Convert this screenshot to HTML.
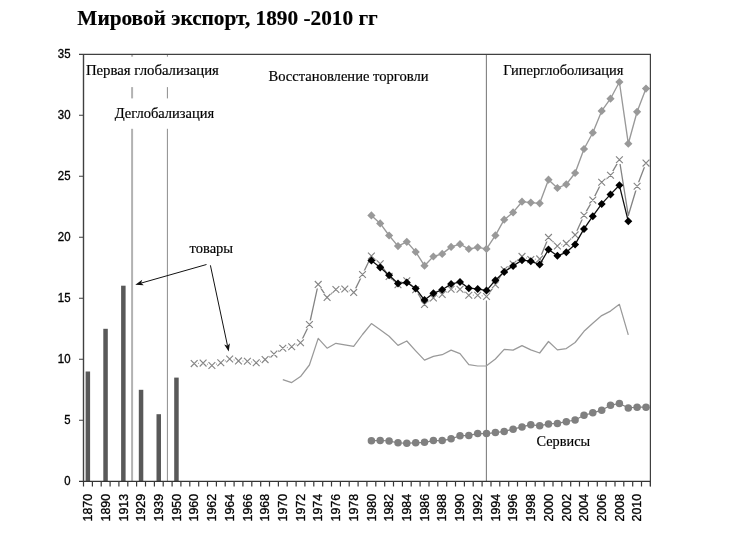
<!DOCTYPE html>
<html><head><meta charset="utf-8"><title>chart</title>
<style>html,body{margin:0;padding:0;background:#fff}svg{display:block}.sr{font-family:"Liberation Serif",serif;fill:#000;stroke:#000;stroke-width:.18px}.ss{font-family:"Liberation Sans",sans-serif;fill:#000;stroke:#000;stroke-width:.34px}</style></head><body>
<svg width="737" height="537" viewBox="0 0 737 537">
<rect width="737" height="537" fill="#fff"/>
<g opacity="0.999">
<text class="sr" x="77.3" y="25.2" font-size="20.6" font-weight="bold" textLength="300.5" lengthAdjust="spacingAndGlyphs">Мировой экспорт, 1890 -2010 гг</text>
<line x1="132.1" y1="54.3" x2="132.1" y2="481.3" stroke="#b2b2b2" stroke-width="2"/>
<line x1="167.4" y1="54.3" x2="167.4" y2="481.3" stroke="#8c8c8c" stroke-width="1"/>
<line x1="486.4" y1="54.3" x2="486.4" y2="481.3" stroke="#808080" stroke-width="1.1"/>
<rect x="85" y="56.7" width="136" height="30.4" fill="#fff"/>
<rect x="112" y="98.4" width="106" height="30.4" fill="#fff"/>
<rect x="85.6" y="371.5" width="4.5" height="109.8" fill="#595959"/>
<rect x="103.3" y="328.8" width="4.5" height="152.5" fill="#595959"/>
<rect x="121.1" y="285.7" width="4.5" height="195.6" fill="#595959"/>
<rect x="138.8" y="389.8" width="4.5" height="91.5" fill="#595959"/>
<rect x="156.5" y="414.2" width="4.5" height="67.1" fill="#595959"/>
<rect x="174.2" y="377.6" width="4.5" height="103.7" fill="#595959"/>
<polyline points="282.8,379.6 291.7,382.6 300.5,376.6 309.4,365.0 318.2,338.4 327.1,348.2 335.9,343.3 344.8,344.9 353.7,346.4 362.5,334.5 371.4,323.6 380.2,329.7 389.1,336.2 398.0,345.4 406.8,341.0 415.7,350.8 424.5,360.1 433.4,356.4 442.2,354.7 451.1,350.1 460.0,353.6 468.8,364.7 477.7,366.0 486.5,365.8 495.4,359.0 504.2,349.4 513.1,350.1 522.0,345.6 530.8,349.9 539.7,353.0 548.5,341.5 557.4,349.9 566.3,348.6 575.1,342.5 584.0,331.3 592.8,323.2 601.7,315.6 610.5,311.1 619.4,304.3 628.3,334.9" fill="none" stroke="#999" stroke-width="1.25" stroke-linejoin="round"/>
<polyline points="371.4,440.8 380.2,440.4 389.1,441.0 398.0,442.8 406.8,443.2 415.7,442.8 424.5,442.3 433.4,440.6 442.2,440.6 451.1,438.8 460.0,435.8 468.8,435.4 477.7,433.6 486.5,433.6 495.4,432.6 504.2,431.4 513.1,429.2 522.0,426.9 530.8,424.7 539.7,425.8 548.5,423.9 557.4,423.4 566.3,421.7 575.1,420.0 584.0,415.2 592.8,412.8 601.7,410.2 610.5,405.2 619.4,403.5 628.3,408.0 637.1,407.2 646.0,407.2" fill="none" stroke="#808080" stroke-width="1.2"/>
<circle cx="371.4" cy="440.8" r="3.75" fill="#808080"/>
<circle cx="380.2" cy="440.4" r="3.75" fill="#808080"/>
<circle cx="389.1" cy="441.0" r="3.75" fill="#808080"/>
<circle cx="398.0" cy="442.8" r="3.75" fill="#808080"/>
<circle cx="406.8" cy="443.2" r="3.75" fill="#808080"/>
<circle cx="415.7" cy="442.8" r="3.75" fill="#808080"/>
<circle cx="424.5" cy="442.3" r="3.75" fill="#808080"/>
<circle cx="433.4" cy="440.6" r="3.75" fill="#808080"/>
<circle cx="442.2" cy="440.6" r="3.75" fill="#808080"/>
<circle cx="451.1" cy="438.8" r="3.75" fill="#808080"/>
<circle cx="460.0" cy="435.8" r="3.75" fill="#808080"/>
<circle cx="468.8" cy="435.4" r="3.75" fill="#808080"/>
<circle cx="477.7" cy="433.6" r="3.75" fill="#808080"/>
<circle cx="486.5" cy="433.6" r="3.75" fill="#808080"/>
<circle cx="495.4" cy="432.6" r="3.75" fill="#808080"/>
<circle cx="504.2" cy="431.4" r="3.75" fill="#808080"/>
<circle cx="513.1" cy="429.2" r="3.75" fill="#808080"/>
<circle cx="522.0" cy="426.9" r="3.75" fill="#808080"/>
<circle cx="530.8" cy="424.7" r="3.75" fill="#808080"/>
<circle cx="539.7" cy="425.8" r="3.75" fill="#808080"/>
<circle cx="548.5" cy="423.9" r="3.75" fill="#808080"/>
<circle cx="557.4" cy="423.4" r="3.75" fill="#808080"/>
<circle cx="566.3" cy="421.7" r="3.75" fill="#808080"/>
<circle cx="575.1" cy="420.0" r="3.75" fill="#808080"/>
<circle cx="584.0" cy="415.2" r="3.75" fill="#808080"/>
<circle cx="592.8" cy="412.8" r="3.75" fill="#808080"/>
<circle cx="601.7" cy="410.2" r="3.75" fill="#808080"/>
<circle cx="610.5" cy="405.2" r="3.75" fill="#808080"/>
<circle cx="619.4" cy="403.5" r="3.75" fill="#808080"/>
<circle cx="628.3" cy="408.0" r="3.75" fill="#808080"/>
<circle cx="637.1" cy="407.2" r="3.75" fill="#808080"/>
<circle cx="646.0" cy="407.2" r="3.75" fill="#808080"/>
<polyline points="194.2,363.6 203.1,363.1 211.9,365.5 220.8,362.8 229.7,359.0 238.5,360.9 247.4,361.2 256.2,362.8 265.1,359.6 273.9,354.1 282.8,348.2 291.7,346.8 300.5,342.7 309.4,324.5 318.2,284.4 327.1,297.4 335.9,289.5 344.8,289.0 353.7,292.4 362.5,274.5 371.4,256.0 380.2,263.8 389.1,276.4 398.0,284.8 406.8,280.7 415.7,289.7 424.5,304.4 433.4,297.9 442.2,294.5 451.1,289.2 460.0,289.2 468.8,295.2 477.7,295.2 486.5,296.5 495.4,284.7 504.2,269.7 513.1,264.0 522.0,256.4 530.8,259.6 539.7,258.9 548.5,237.4 557.4,246.0 566.3,243.4 575.1,234.9 584.0,215.3 592.8,200.1 601.7,182.3 610.5,175.2 619.4,159.8 628.3,215.5 637.1,186.3 646.0,163.1" fill="none" stroke="#838383" stroke-width="1.3" stroke-linejoin="round"/>
<path d="M190.1 359.5h8.2v8.2h-8.2zM199.0 359.0h8.2v8.2h-8.2zM207.8 361.4h8.2v8.2h-8.2zM216.7 358.7h8.2v8.2h-8.2zM225.6 354.9h8.2v8.2h-8.2zM234.4 356.8h8.2v8.2h-8.2zM243.3 357.1h8.2v8.2h-8.2zM252.1 358.7h8.2v8.2h-8.2zM261.0 355.5h8.2v8.2h-8.2zM269.8 350.0h8.2v8.2h-8.2zM278.7 344.1h8.2v8.2h-8.2zM287.6 342.7h8.2v8.2h-8.2zM296.4 338.6h8.2v8.2h-8.2zM305.3 320.4h8.2v8.2h-8.2zM314.1 280.3h8.2v8.2h-8.2zM323.0 293.3h8.2v8.2h-8.2zM331.8 285.4h8.2v8.2h-8.2zM340.7 284.9h8.2v8.2h-8.2zM349.6 288.3h8.2v8.2h-8.2zM358.4 270.4h8.2v8.2h-8.2zM367.3 251.9h8.2v8.2h-8.2zM376.1 259.7h8.2v8.2h-8.2zM385.0 272.3h8.2v8.2h-8.2zM393.9 280.7h8.2v8.2h-8.2zM402.7 276.6h8.2v8.2h-8.2zM411.6 285.6h8.2v8.2h-8.2zM420.4 300.3h8.2v8.2h-8.2zM429.3 293.8h8.2v8.2h-8.2zM438.1 290.4h8.2v8.2h-8.2zM447.0 285.1h8.2v8.2h-8.2zM455.9 285.1h8.2v8.2h-8.2zM464.7 291.1h8.2v8.2h-8.2zM473.6 291.1h8.2v8.2h-8.2zM482.4 292.4h8.2v8.2h-8.2zM491.3 280.6h8.2v8.2h-8.2zM500.1 265.6h8.2v8.2h-8.2zM509.0 259.9h8.2v8.2h-8.2zM517.9 252.3h8.2v8.2h-8.2zM526.7 255.5h8.2v8.2h-8.2zM535.6 254.8h8.2v8.2h-8.2zM544.4 233.3h8.2v8.2h-8.2zM553.3 241.9h8.2v8.2h-8.2zM562.2 239.3h8.2v8.2h-8.2zM571.0 230.8h8.2v8.2h-8.2zM579.9 211.2h8.2v8.2h-8.2zM588.7 196.0h8.2v8.2h-8.2zM597.6 178.2h8.2v8.2h-8.2zM606.4 171.1h8.2v8.2h-8.2zM615.3 155.7h8.2v8.2h-8.2zM633.0 182.2h8.2v8.2h-8.2zM641.9 159.0h8.2v8.2h-8.2z" fill="#fff"/>
<path d="M190.8 360.2l6.8 6.8m0 -6.8l-6.8 6.8M199.7 359.7l6.8 6.8m0 -6.8l-6.8 6.8M208.5 362.1l6.8 6.8m0 -6.8l-6.8 6.8M217.4 359.4l6.8 6.8m0 -6.8l-6.8 6.8M226.3 355.6l6.8 6.8m0 -6.8l-6.8 6.8M235.1 357.5l6.8 6.8m0 -6.8l-6.8 6.8M244.0 357.8l6.8 6.8m0 -6.8l-6.8 6.8M252.8 359.4l6.8 6.8m0 -6.8l-6.8 6.8M261.7 356.2l6.8 6.8m0 -6.8l-6.8 6.8M270.5 350.7l6.8 6.8m0 -6.8l-6.8 6.8M279.4 344.8l6.8 6.8m0 -6.8l-6.8 6.8M288.3 343.4l6.8 6.8m0 -6.8l-6.8 6.8M297.1 339.3l6.8 6.8m0 -6.8l-6.8 6.8M306.0 321.1l6.8 6.8m0 -6.8l-6.8 6.8M314.8 281.0l6.8 6.8m0 -6.8l-6.8 6.8M323.7 294.0l6.8 6.8m0 -6.8l-6.8 6.8M332.5 286.1l6.8 6.8m0 -6.8l-6.8 6.8M341.4 285.6l6.8 6.8m0 -6.8l-6.8 6.8M350.3 289.0l6.8 6.8m0 -6.8l-6.8 6.8M359.1 271.1l6.8 6.8m0 -6.8l-6.8 6.8M368.0 252.6l6.8 6.8m0 -6.8l-6.8 6.8M376.8 260.4l6.8 6.8m0 -6.8l-6.8 6.8M385.7 273.0l6.8 6.8m0 -6.8l-6.8 6.8M394.6 281.4l6.8 6.8m0 -6.8l-6.8 6.8M403.4 277.3l6.8 6.8m0 -6.8l-6.8 6.8M412.3 286.3l6.8 6.8m0 -6.8l-6.8 6.8M421.1 301.0l6.8 6.8m0 -6.8l-6.8 6.8M430.0 294.5l6.8 6.8m0 -6.8l-6.8 6.8M438.8 291.1l6.8 6.8m0 -6.8l-6.8 6.8M447.7 285.8l6.8 6.8m0 -6.8l-6.8 6.8M456.6 285.8l6.8 6.8m0 -6.8l-6.8 6.8M465.4 291.8l6.8 6.8m0 -6.8l-6.8 6.8M474.3 291.8l6.8 6.8m0 -6.8l-6.8 6.8M483.1 293.1l6.8 6.8m0 -6.8l-6.8 6.8M492.0 281.3l6.8 6.8m0 -6.8l-6.8 6.8M500.8 266.3l6.8 6.8m0 -6.8l-6.8 6.8M509.7 260.6l6.8 6.8m0 -6.8l-6.8 6.8M518.6 253.0l6.8 6.8m0 -6.8l-6.8 6.8M527.4 256.2l6.8 6.8m0 -6.8l-6.8 6.8M536.3 255.5l6.8 6.8m0 -6.8l-6.8 6.8M545.1 234.0l6.8 6.8m0 -6.8l-6.8 6.8M554.0 242.6l6.8 6.8m0 -6.8l-6.8 6.8M562.9 240.0l6.8 6.8m0 -6.8l-6.8 6.8M571.7 231.5l6.8 6.8m0 -6.8l-6.8 6.8M580.6 211.9l6.8 6.8m0 -6.8l-6.8 6.8M589.4 196.7l6.8 6.8m0 -6.8l-6.8 6.8M598.3 178.9l6.8 6.8m0 -6.8l-6.8 6.8M607.1 171.8l6.8 6.8m0 -6.8l-6.8 6.8M616.0 156.4l6.8 6.8m0 -6.8l-6.8 6.8M633.7 182.9l6.8 6.8m0 -6.8l-6.8 6.8M642.6 159.7l6.8 6.8m0 -6.8l-6.8 6.8" stroke="#858585" stroke-width="1.15" fill="none"/>
<polyline points="371.4,215.4 380.2,223.4 389.1,235.5 398.0,246.1 406.8,241.8 415.7,251.9 424.5,265.7 433.4,256.5 442.2,253.9 451.1,246.9 460.0,244.2 468.8,249.0 477.7,247.3 486.5,248.9 495.4,235.4 504.2,219.7 513.1,212.4 522.0,201.7 530.8,202.6 539.7,203.3 548.5,179.7 557.4,188.0 566.3,184.3 575.1,173.0 584.0,149.0 592.8,132.7 601.7,110.9 610.5,98.7 619.4,82.0 628.3,143.7 637.1,111.8 646.0,88.6" fill="none" stroke="#999" stroke-width="1.35" stroke-linejoin="round"/>
<path d="M371.4 211.3l4.1 4.1l-4.1 4.1l-4.1 -4.1zM380.2 219.3l4.1 4.1l-4.1 4.1l-4.1 -4.1zM389.1 231.4l4.1 4.1l-4.1 4.1l-4.1 -4.1zM398.0 242.0l4.1 4.1l-4.1 4.1l-4.1 -4.1zM406.8 237.7l4.1 4.1l-4.1 4.1l-4.1 -4.1zM415.7 247.8l4.1 4.1l-4.1 4.1l-4.1 -4.1zM424.5 261.6l4.1 4.1l-4.1 4.1l-4.1 -4.1zM433.4 252.4l4.1 4.1l-4.1 4.1l-4.1 -4.1zM442.2 249.8l4.1 4.1l-4.1 4.1l-4.1 -4.1zM451.1 242.8l4.1 4.1l-4.1 4.1l-4.1 -4.1zM460.0 240.1l4.1 4.1l-4.1 4.1l-4.1 -4.1zM468.8 244.9l4.1 4.1l-4.1 4.1l-4.1 -4.1zM477.7 243.2l4.1 4.1l-4.1 4.1l-4.1 -4.1zM486.5 244.8l4.1 4.1l-4.1 4.1l-4.1 -4.1zM495.4 231.3l4.1 4.1l-4.1 4.1l-4.1 -4.1zM504.2 215.6l4.1 4.1l-4.1 4.1l-4.1 -4.1zM513.1 208.3l4.1 4.1l-4.1 4.1l-4.1 -4.1zM522.0 197.6l4.1 4.1l-4.1 4.1l-4.1 -4.1zM530.8 198.5l4.1 4.1l-4.1 4.1l-4.1 -4.1zM539.7 199.2l4.1 4.1l-4.1 4.1l-4.1 -4.1zM548.5 175.6l4.1 4.1l-4.1 4.1l-4.1 -4.1zM557.4 183.9l4.1 4.1l-4.1 4.1l-4.1 -4.1zM566.3 180.2l4.1 4.1l-4.1 4.1l-4.1 -4.1zM575.1 168.9l4.1 4.1l-4.1 4.1l-4.1 -4.1zM584.0 144.9l4.1 4.1l-4.1 4.1l-4.1 -4.1zM592.8 128.6l4.1 4.1l-4.1 4.1l-4.1 -4.1zM601.7 106.8l4.1 4.1l-4.1 4.1l-4.1 -4.1zM610.5 94.6l4.1 4.1l-4.1 4.1l-4.1 -4.1zM619.4 77.9l4.1 4.1l-4.1 4.1l-4.1 -4.1zM628.3 139.6l4.1 4.1l-4.1 4.1l-4.1 -4.1zM637.1 107.7l4.1 4.1l-4.1 4.1l-4.1 -4.1zM646.0 84.5l4.1 4.1l-4.1 4.1l-4.1 -4.1z" fill="#999"/>
<polyline points="371.4,260.6 380.2,267.4 389.1,275.2 398.0,283.4 406.8,282.4 415.7,288.5 424.5,300.1 433.4,293.3 442.2,289.7 451.1,284.1 460.0,281.9 468.8,288.2 477.7,288.9 486.5,290.6 495.4,280.2 504.2,271.9 513.1,265.9 522.0,260.2 530.8,261.2 539.7,264.6 548.5,249.5 557.4,255.8 566.3,252.3 575.1,244.4 584.0,228.9 592.8,216.2 601.7,203.9 610.5,194.4 619.4,185.3 628.3,221.3" fill="none" stroke="#111" stroke-width="1.3" stroke-linejoin="round"/>
<path d="M371.4 256.6l4 4l-4 4l-4 -4zM380.2 263.4l4 4l-4 4l-4 -4zM389.1 271.2l4 4l-4 4l-4 -4zM398.0 279.4l4 4l-4 4l-4 -4zM406.8 278.4l4 4l-4 4l-4 -4zM415.7 284.5l4 4l-4 4l-4 -4zM424.5 296.1l4 4l-4 4l-4 -4zM433.4 289.3l4 4l-4 4l-4 -4zM442.2 285.7l4 4l-4 4l-4 -4zM451.1 280.1l4 4l-4 4l-4 -4zM460.0 277.9l4 4l-4 4l-4 -4zM468.8 284.2l4 4l-4 4l-4 -4zM477.7 284.9l4 4l-4 4l-4 -4zM486.5 286.6l4 4l-4 4l-4 -4zM495.4 276.2l4 4l-4 4l-4 -4zM504.2 267.9l4 4l-4 4l-4 -4zM513.1 261.9l4 4l-4 4l-4 -4zM522.0 256.2l4 4l-4 4l-4 -4zM530.8 257.2l4 4l-4 4l-4 -4zM539.7 260.6l4 4l-4 4l-4 -4zM548.5 245.5l4 4l-4 4l-4 -4zM557.4 251.8l4 4l-4 4l-4 -4zM566.3 248.3l4 4l-4 4l-4 -4zM575.1 240.4l4 4l-4 4l-4 -4zM584.0 224.9l4 4l-4 4l-4 -4zM592.8 212.2l4 4l-4 4l-4 -4zM601.7 199.9l4 4l-4 4l-4 -4zM610.5 190.4l4 4l-4 4l-4 -4zM619.4 181.3l4 4l-4 4l-4 -4zM628.3 217.3l4 4l-4 4l-4 -4z" fill="#000"/>
<path d="M79 54.3H650.4M650.4 53.7V486.3" stroke="#404040" stroke-width="1.2" fill="none"/>
<path d="M83.5 54.3V481.3" stroke="#404040" stroke-width="1.4" fill="none"/>
<path d="M79 481.3H650.4" stroke="#333" stroke-width="1.3" fill="none"/>
<path d="M79 420.3H83.5M79 359.3H83.5M79 298.3H83.5M79 237.3H83.5M79 176.3H83.5M79 115.3H83.5" stroke="#404040" stroke-width="1.1" fill="none"/>
<path d="M83.5 481.3v5.2M92.4 481.3v5.2M101.2 481.3v5.2M110.1 481.3v5.2M118.9 481.3v5.2M127.8 481.3v5.2M136.6 481.3v5.2M145.5 481.3v5.2M154.4 481.3v5.2M163.2 481.3v5.2M172.1 481.3v5.2M180.9 481.3v5.2M189.8 481.3v5.2M198.7 481.3v5.2M207.5 481.3v5.2M216.4 481.3v5.2M225.2 481.3v5.2M234.1 481.3v5.2M242.9 481.3v5.2M251.8 481.3v5.2M260.7 481.3v5.2M269.5 481.3v5.2M278.4 481.3v5.2M287.2 481.3v5.2M296.1 481.3v5.2M304.9 481.3v5.2M313.8 481.3v5.2M322.7 481.3v5.2M331.5 481.3v5.2M340.4 481.3v5.2M349.2 481.3v5.2M358.1 481.3v5.2M366.9 481.3v5.2M375.8 481.3v5.2M384.7 481.3v5.2M393.5 481.3v5.2M402.4 481.3v5.2M411.2 481.3v5.2M420.1 481.3v5.2M429.0 481.3v5.2M437.8 481.3v5.2M446.7 481.3v5.2M455.5 481.3v5.2M464.4 481.3v5.2M473.2 481.3v5.2M482.1 481.3v5.2M491.0 481.3v5.2M499.8 481.3v5.2M508.7 481.3v5.2M517.5 481.3v5.2M526.4 481.3v5.2M535.2 481.3v5.2M544.1 481.3v5.2M553.0 481.3v5.2M561.8 481.3v5.2M570.7 481.3v5.2M579.5 481.3v5.2M588.4 481.3v5.2M597.3 481.3v5.2M606.1 481.3v5.2M615.0 481.3v5.2M623.8 481.3v5.2M632.7 481.3v5.2M641.5 481.3v5.2M650.4 481.3v5.2" stroke="#3a3a3a" stroke-width="1.2" fill="none"/>
<text class="ss" x="70.5" y="484.9" font-size="12.2" text-anchor="end" textLength="6.3" lengthAdjust="spacingAndGlyphs">0</text>
<text class="ss" x="70.5" y="423.9" font-size="12.2" text-anchor="end" textLength="6.3" lengthAdjust="spacingAndGlyphs">5</text>
<text class="ss" x="70.5" y="362.9" font-size="12.2" text-anchor="end" textLength="12.7" lengthAdjust="spacingAndGlyphs">10</text>
<text class="ss" x="70.5" y="301.9" font-size="12.2" text-anchor="end" textLength="12.7" lengthAdjust="spacingAndGlyphs">15</text>
<text class="ss" x="70.5" y="240.9" font-size="12.2" text-anchor="end" textLength="12.7" lengthAdjust="spacingAndGlyphs">20</text>
<text class="ss" x="70.5" y="179.9" font-size="12.2" text-anchor="end" textLength="12.7" lengthAdjust="spacingAndGlyphs">25</text>
<text class="ss" x="70.5" y="118.9" font-size="12.2" text-anchor="end" textLength="12.7" lengthAdjust="spacingAndGlyphs">30</text>
<text class="ss" x="70.5" y="57.9" font-size="12.2" text-anchor="end" textLength="12.7" lengthAdjust="spacingAndGlyphs">35</text>
<text class="ss" font-size="13" textLength="27.5" lengthAdjust="spacingAndGlyphs" transform="translate(92.1 521.4) rotate(-90)">1870</text>
<text class="ss" font-size="13" textLength="27.5" lengthAdjust="spacingAndGlyphs" transform="translate(109.8 521.4) rotate(-90)">1890</text>
<text class="ss" font-size="13" textLength="27.5" lengthAdjust="spacingAndGlyphs" transform="translate(127.6 521.4) rotate(-90)">1913</text>
<text class="ss" font-size="13" textLength="27.5" lengthAdjust="spacingAndGlyphs" transform="translate(145.3 521.4) rotate(-90)">1929</text>
<text class="ss" font-size="13" textLength="27.5" lengthAdjust="spacingAndGlyphs" transform="translate(163.0 521.4) rotate(-90)">1939</text>
<text class="ss" font-size="13" textLength="27.5" lengthAdjust="spacingAndGlyphs" transform="translate(180.7 521.4) rotate(-90)">1950</text>
<text class="ss" font-size="13" textLength="27.5" lengthAdjust="spacingAndGlyphs" transform="translate(198.4 521.4) rotate(-90)">1960</text>
<text class="ss" font-size="13" textLength="27.5" lengthAdjust="spacingAndGlyphs" transform="translate(216.1 521.4) rotate(-90)">1962</text>
<text class="ss" font-size="13" textLength="27.5" lengthAdjust="spacingAndGlyphs" transform="translate(233.9 521.4) rotate(-90)">1964</text>
<text class="ss" font-size="13" textLength="27.5" lengthAdjust="spacingAndGlyphs" transform="translate(251.6 521.4) rotate(-90)">1966</text>
<text class="ss" font-size="13" textLength="27.5" lengthAdjust="spacingAndGlyphs" transform="translate(269.3 521.4) rotate(-90)">1968</text>
<text class="ss" font-size="13" textLength="27.5" lengthAdjust="spacingAndGlyphs" transform="translate(287.0 521.4) rotate(-90)">1970</text>
<text class="ss" font-size="13" textLength="27.5" lengthAdjust="spacingAndGlyphs" transform="translate(304.7 521.4) rotate(-90)">1972</text>
<text class="ss" font-size="13" textLength="27.5" lengthAdjust="spacingAndGlyphs" transform="translate(322.4 521.4) rotate(-90)">1974</text>
<text class="ss" font-size="13" textLength="27.5" lengthAdjust="spacingAndGlyphs" transform="translate(340.1 521.4) rotate(-90)">1976</text>
<text class="ss" font-size="13" textLength="27.5" lengthAdjust="spacingAndGlyphs" transform="translate(357.9 521.4) rotate(-90)">1978</text>
<text class="ss" font-size="13" textLength="27.5" lengthAdjust="spacingAndGlyphs" transform="translate(375.6 521.4) rotate(-90)">1980</text>
<text class="ss" font-size="13" textLength="27.5" lengthAdjust="spacingAndGlyphs" transform="translate(393.3 521.4) rotate(-90)">1982</text>
<text class="ss" font-size="13" textLength="27.5" lengthAdjust="spacingAndGlyphs" transform="translate(411.0 521.4) rotate(-90)">1984</text>
<text class="ss" font-size="13" textLength="27.5" lengthAdjust="spacingAndGlyphs" transform="translate(428.7 521.4) rotate(-90)">1986</text>
<text class="ss" font-size="13" textLength="27.5" lengthAdjust="spacingAndGlyphs" transform="translate(446.4 521.4) rotate(-90)">1988</text>
<text class="ss" font-size="13" textLength="27.5" lengthAdjust="spacingAndGlyphs" transform="translate(464.2 521.4) rotate(-90)">1990</text>
<text class="ss" font-size="13" textLength="27.5" lengthAdjust="spacingAndGlyphs" transform="translate(481.9 521.4) rotate(-90)">1992</text>
<text class="ss" font-size="13" textLength="27.5" lengthAdjust="spacingAndGlyphs" transform="translate(499.6 521.4) rotate(-90)">1994</text>
<text class="ss" font-size="13" textLength="27.5" lengthAdjust="spacingAndGlyphs" transform="translate(517.3 521.4) rotate(-90)">1996</text>
<text class="ss" font-size="13" textLength="27.5" lengthAdjust="spacingAndGlyphs" transform="translate(535.0 521.4) rotate(-90)">1998</text>
<text class="ss" font-size="13" textLength="27.5" lengthAdjust="spacingAndGlyphs" transform="translate(552.7 521.4) rotate(-90)">2000</text>
<text class="ss" font-size="13" textLength="27.5" lengthAdjust="spacingAndGlyphs" transform="translate(570.5 521.4) rotate(-90)">2002</text>
<text class="ss" font-size="13" textLength="27.5" lengthAdjust="spacingAndGlyphs" transform="translate(588.2 521.4) rotate(-90)">2004</text>
<text class="ss" font-size="13" textLength="27.5" lengthAdjust="spacingAndGlyphs" transform="translate(605.9 521.4) rotate(-90)">2006</text>
<text class="ss" font-size="13" textLength="27.5" lengthAdjust="spacingAndGlyphs" transform="translate(623.6 521.4) rotate(-90)">2008</text>
<text class="ss" font-size="13" textLength="27.5" lengthAdjust="spacingAndGlyphs" transform="translate(641.3 521.4) rotate(-90)">2010</text>
<text class="sr" x="85.9" y="75" font-size="14.5" textLength="133" lengthAdjust="spacingAndGlyphs">Первая глобализация</text>
<text class="sr" x="114.7" y="118" font-size="14.5" textLength="99.5" lengthAdjust="spacingAndGlyphs">Деглобализация</text>
<text class="sr" x="268.5" y="81" font-size="14.5" textLength="160" lengthAdjust="spacingAndGlyphs">Восстановление торговли</text>
<text class="sr" x="503.2" y="74.9" font-size="14.5" textLength="120.2" lengthAdjust="spacingAndGlyphs">Гиперглоболизация</text>
<text class="sr" x="189.6" y="252.7" font-size="14.5" textLength="43.5" lengthAdjust="spacingAndGlyphs">товары</text>
<text class="sr" x="536.5" y="446" font-size="14.5" textLength="53.6" lengthAdjust="spacingAndGlyphs">Сервисы</text>
<line x1="206.5" y1="264.5" x2="141.1" y2="283.1" stroke="#111" stroke-width="1"/>
<path d="M135.3 284.7L142.2 279.7L141.1 283.1L143.8 285.3z" fill="#111"/>
<line x1="210.4" y1="265.3" x2="227.5" y2="345.7" stroke="#111" stroke-width="1"/>
<path d="M228.7 351.6L224.2 344.4L227.5 345.7L229.9 343.2z" fill="#111"/>
</g></svg></body></html>
